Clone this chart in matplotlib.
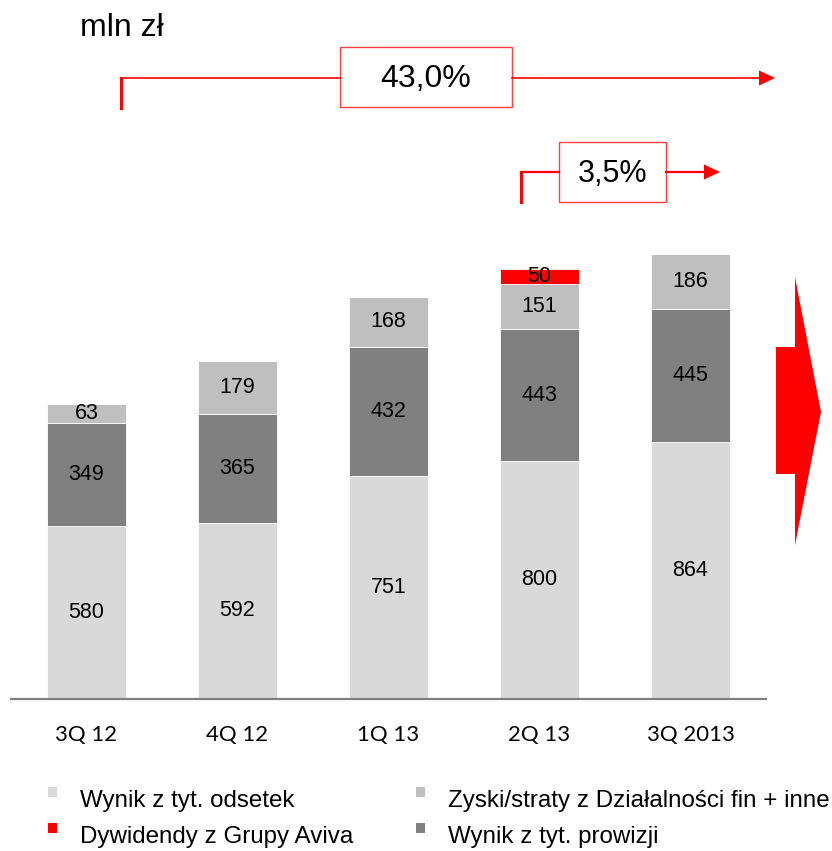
import matplotlib
matplotlib.use('Agg')
import matplotlib.pyplot as plt
from matplotlib.patches import Rectangle, Polygon
from matplotlib.lines import Line2D
import numpy as np

# data
quarters = ['3Q 12', '4Q 12', '1Q 13', '2Q 13', '3Q 2013']
odsetki = [580, 592, 751, 800, 864]
prowizje = [349, 365, 432, 443, 445]
zyski = [63, 179, 168, 151, 186]
dywidendy = [0, 0, 0, 50, 0]

series_names = ['Wynik z tyt. odsetek', 'Wynik z tyt. prowizji',
                'Zyski/straty z Działalności fin + inne', 'Dywidendy z Grupy Aviva']
series_colors = ['#D9D9D9', '#808080', '#BFBFBF', '#FF0000']

growth_total = '43,0%'
growth_qoq = '3,5%'

W, H = 832, 851
RED = '#FF0000'
LABEL_FONT = 'Liberation Sans'


def px(x, y):
    # pixel position (from top-left) to figure fraction
    return x / W, 1 - y / H


fig = plt.figure(figsize=(W / 100, H / 100), dpi=100)

# main bar axes
base_y = 699
ymax = 1600
ax_h = ymax * 0.2976
ax = fig.add_axes([11 / W, (H - base_y) / H, 755 / W, ax_h / H])

x = np.arange(len(quarters))
bottom = np.zeros(len(quarters))
for vals, name, col in zip([odsetki, prowizje, zyski, dywidendy], series_names, series_colors):
    vals = np.array(vals, dtype=float)
    ax.bar(x, vals, width=0.52, bottom=bottom, color=col, edgecolor='white', linewidth=0.6, label=name)
    for xi, b, v in zip(x, bottom, vals):
        if v > 0:
            ax.text(xi, b + v / 2, f'{int(v)}', ha='center', va='center',
                    fontsize=15.5, family=LABEL_FONT, color='black')
    bottom += vals

ax.set_xlim(-0.5, 4.5)
ax.set_ylim(0, ymax)
for s in ['top', 'right', 'left']:
    ax.spines[s].set_visible(False)
ax.spines['bottom'].set_color('#808080')
ax.spines['bottom'].set_linewidth(1.6)
ax.set_yticks([])
ax.set_xticks(x)
ax.set_xticklabels(quarters, fontsize=16, family='Lato')
ax.tick_params(axis='x', length=0, pad=19)

# unit label
fig.text(*px(80, 28), 'mln zł', fontsize=23, family=LABEL_FONT, ha='left', va='center')


def growth_marker(x_left, y_line, y_bottom, box, x_tip, text, lw_h, lw_v, size):
    bx0, by0, bx1, by1 = box
    fig.add_artist(Line2D(*zip(px(x_left, y_bottom), px(x_left, y_line)), color=RED, lw=lw_v))
    fig.add_artist(Line2D(*zip(px(x_left, y_line), px(bx0, y_line)), color=RED, lw=lw_h))
    fig.add_artist(Line2D(*zip(px(bx1, y_line), px(x_tip - 15, y_line)), color=RED, lw=lw_h))
    fig.add_artist(Polygon([px(x_tip - 16, y_line - 7.5), px(x_tip, y_line), px(x_tip - 16, y_line + 7.5)],
                           closed=True, facecolor=RED, edgecolor='none', transform=fig.transFigure))
    fx0, fy1 = px(bx0, by1)
    fig.add_artist(Rectangle((fx0, fy1), (bx1 - bx0) / W, (by1 - by0) / H, facecolor='white',
                             edgecolor='#FF4040', lw=1.0, transform=fig.transFigure))
    fig.text(*px((bx0 + bx1) / 2, (by0 + by1) / 2 + 2), text, fontsize=size, family=LABEL_FONT,
             ha='center', va='center')


growth_marker(121, 78, 108, (340, 47, 512, 107), 775, growth_total, 1.2, 2.2, 23)
growth_marker(521, 172, 202, (559, 142, 666, 202), 720, growth_qoq, 1.6, 2.2, 22)

# big red arrow on the right
arrow_pts = [(776, 347), (795, 347), (795, 277), (821, 412), (795, 545), (795, 474), (776, 474)]
fig.add_artist(Polygon([px(a, b) for a, b in arrow_pts], closed=True, facecolor=RED,
                       edgecolor='none', transform=fig.transFigure))

# legend
legend_items = [(48, 800, 0), (416, 800, 2), (48, 836, 3), (416, 836, 1)]
for lx, ly, idx in legend_items:
    sx, sy = px(lx, ly - 3)
    fig.add_artist(Rectangle((sx, sy), 9 / W, 10 / H, facecolor=series_colors[idx],
                             edgecolor='none', transform=fig.transFigure))
    fig.text(*px(lx + 32, ly + 1), series_names[idx], fontsize=17.4, family=LABEL_FONT,
             ha='left', va='center')

fig.savefig('out.png', dpi=100)
